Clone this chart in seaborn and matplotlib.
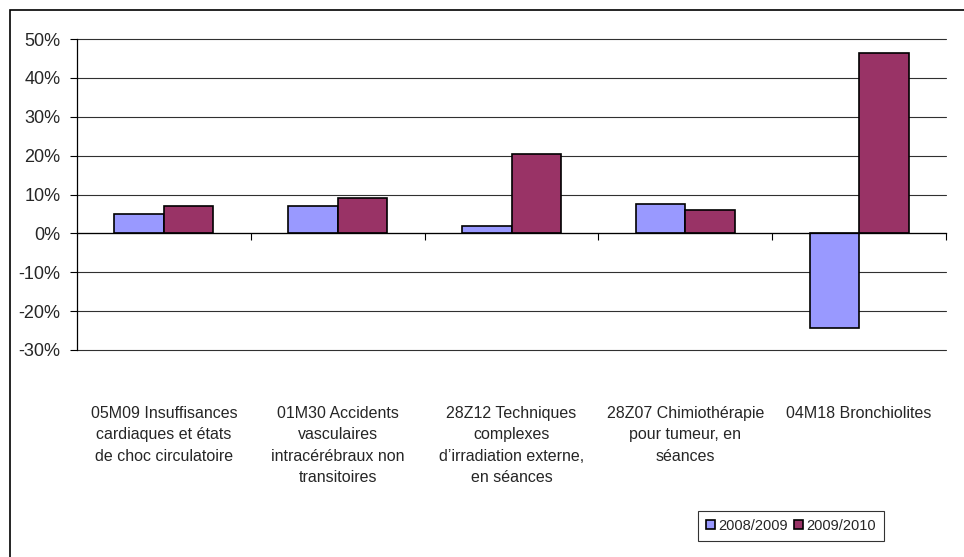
import pandas as pd
import seaborn as sns
import matplotlib.pyplot as plt
from matplotlib.patches import Rectangle
from matplotlib.ticker import PercentFormatter

# Data
categories = [
    "05M09 Insuffisances\ncardiaques et états\nde choc circulatoire",
    "01M30 Accidents\nvasculaires\nintracérébraux non\ntransitoires",
    "28Z12 Techniques\ncomplexes\nd\u2019irradiation externe,\nen séances",
    "28Z07 Chimiothérapie\npour tumeur, en\nséances",
    "04M18 Bronchiolites",
]
series = ["2008/2009", "2009/2010"]
values_2008_2009 = [0.051, 0.070, 0.018, 0.075, -0.244]
values_2009_2010 = [0.070, 0.090, 0.203, 0.059, 0.465]
colors = ["#9999FF", "#993366"]

df = pd.DataFrame({
    "Category": categories * 2,
    "Period": [series[0]] * 5 + [series[1]] * 5,
    "Value": values_2008_2009 + values_2009_2010,
})

sns.set_style("white")
plt.rcParams["font.family"] = ["Liberation Sans", "DejaVu Sans"]
plt.rcParams["axes.unicode_minus"] = False

fig = plt.figure(figsize=(9.64, 5.57), dpi=100)
ax = fig.add_axes([77 / 964, 1 - 350 / 557, (946 - 77) / 964, (350 - 39) / 557])

sns.barplot(data=df, x="Category", y="Value", hue="Period", order=categories,
            hue_order=series, palette=colors, width=0.57, edgecolor="black",
            linewidth=1.2, saturation=1, ax=ax, legend=True)

ax.set_ylim(-0.3, 0.5)
ax.set_xlim(-0.5, 4.5)
ax.set_yticks([-0.3, -0.2, -0.1, 0, 0.1, 0.2, 0.3, 0.4, 0.5])
ax.yaxis.set_major_formatter(PercentFormatter(1.0, decimals=0))
ax.grid(axis="y", color="#303030", linewidth=0.8)
for gl in ax.get_ygridlines():
    gl.set_clip_on(False)
ax.set_axisbelow(True)
ax.tick_params(axis="y", direction="out", length=5, width=0.8, color="black",
               labelsize=13, pad=7, left=True)

# zero line with category separator ticks
for s in ["top", "right"]:
    ax.spines[s].set_visible(False)
ax.spines["left"].set_color("black")
ax.spines["left"].set_linewidth(0.9)
ax.spines["bottom"].set_position(("data", 0))
ax.spines["bottom"].set_color("black")
ax.spines["bottom"].set_linewidth(0.9)
ax.set_xticks(range(len(categories)))
ax.set_xticklabels([])
ax.tick_params(axis="x", which="major", length=0)
ax.set_xticks([0.5, 1.5, 2.5, 3.5, 4.5], minor=True)
ax.tick_params(axis="x", which="minor", direction="out", length=5, width=0.8,
               color="black", bottom=True)

# category labels below the plot area
sec = ax.secondary_xaxis(0)
sec.set_xticks(range(len(categories)))
sec.set_xticklabels(categories, fontsize=11.5, linespacing=1.55, va="top")
sec.tick_params(axis="x", length=0, pad=40)
sec.spines["bottom"].set_visible(False)

ax.set_xlabel("")
ax.set_ylabel("")

leg = ax.legend(loc="center", bbox_to_anchor=(791 / 964, 1 - 526 / 557),
                bbox_transform=fig.transFigure, ncol=2, frameon=True,
                fancybox=False, edgecolor="black", fontsize=10.5,
                handlelength=0.6, handleheight=0.6, handletextpad=0.25,
                columnspacing=0.4, borderpad=0.55, borderaxespad=0)
leg.get_frame().set_linewidth(0.8)

# outer chart frame (cut off on the right and bottom)
fig.patches.append(Rectangle((10 / 964, -0.05), 1.1, 1 - 10 / 557 + 0.05,
                             transform=fig.transFigure, fill=False,
                             edgecolor="black", linewidth=1.2, clip_on=False))

fig.savefig("out.png", dpi=100)
